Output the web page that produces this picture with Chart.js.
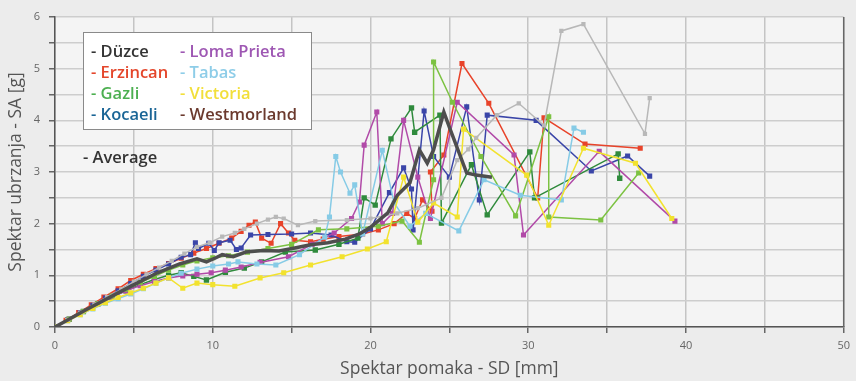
<!DOCTYPE html>
<html>
<head>
<meta charset="utf-8">
<script src="https://cdn.jsdelivr.net/npm/chart.js@4.4.1/dist/chart.umd.min.js"></script>
<style>
  html, body { margin: 0; padding: 0; background: #ececec; }
  #wrap { width: 856px; height: 381px; position: relative; }
</style>
</head>
<body>
<div id="wrap"><canvas id="spectra"></canvas></div>
<script>
// axis ticks
var xTicks = [0, 10, 20, 30, 40, 50];
var yTicks = [0, 1, 2, 3, 4, 5, 6];

// Düzce
var duzceX = [0, 0.8, 1.6, 2.5, 3.3, 4.2, 5.0, 5.8, 6.6, 7.4, 8.2, 9.0, 9.8, 10.6, 11.4, 12.0, 12.8, 13.5, 14.0, 14.5, 15.4, 16.5, 18.5, 20.0, 21.7, 23.0, 24.5, 25.5, 26.2, 26.7, 28.0, 29.4, 31.0, 32.1, 33.5, 37.4, 37.7];
var duzceY = [0, 0.14, 0.28, 0.44, 0.58, 0.73, 0.88, 1.02, 1.15, 1.28, 1.42, 1.55, 1.63, 1.75, 1.82, 1.9, 2.0, 2.08, 2.13, 2.1, 1.97, 2.05, 2.07, 2.1, 2.2, 2.3, 2.5, 3.23, 3.44, 3.66, 4.1, 4.33, 3.9, 5.73, 5.86, 3.74, 4.43];

// Erzincan
var erzincanX = [0, 0.7, 1.5, 2.3, 3.1, 4.0, 4.8, 5.6, 6.4, 7.2, 8.0, 8.8, 9.6, 10.4, 11.2, 11.8, 12.3, 12.7, 13.1, 13.7, 14.3, 14.8, 15.2, 16.2, 17.0, 18.0, 19.5, 20.5, 21.5, 22.3, 22.8, 23.3, 23.9, 23.8, 24.65, 25.8, 27.5, 30.6, 31.0, 33.6, 37.1];
var erzincanY = [0, 0.13, 0.28, 0.43, 0.58, 0.74, 0.9, 1.02, 1.13, 1.23, 1.33, 1.43, 1.52, 1.62, 1.72, 1.85, 1.97, 2.03, 1.72, 1.62, 2.0, 1.82, 1.68, 1.65, 1.7, 1.75, 1.8, 1.88, 2.0, 2.2, 2.1, 2.46, 2.24, 3.0, 3.33, 5.1, 4.33, 2.5, 4.05, 3.54, 3.46];

// Gazli
var gazliX = [0, 0.9, 1.8, 2.7, 3.6, 4.5, 5.4, 6.3, 7.2, 8.1, 9.0, 10.0, 11.0, 12.2, 13.5, 15.0, 16.7, 18.5, 20.5, 22.0, 23.1, 24.0, 24.0, 25.2, 27.0, 29.2, 31.3, 31.3, 34.6, 37.0];
var gazliY = [0, 0.15, 0.3, 0.45, 0.6, 0.73, 0.86, 0.98, 1.1, 1.2, 1.28, 1.34, 1.38, 1.45, 1.52, 1.6, 1.88, 1.9, 1.95, 2.05, 1.64, 2.85, 5.13, 4.35, 3.3, 2.15, 4.07, 2.13, 2.07, 2.98];

// Kocaeli
var kocaeliX = [0, 0.8, 1.6, 2.4, 3.2, 4.0, 4.8, 5.6, 6.4, 7.2, 8.0, 8.6, 8.9, 9.1, 9.75, 10.1, 10.4, 11.1, 11.5, 11.8, 12.4, 13.5, 15.0, 16.2, 17.5, 18.5, 19.0, 20.0, 21.2, 22.1, 22.6, 22.7, 23.4, 24.0, 25.0, 26.1, 26.9, 27.4, 30.5, 34.0, 36.3, 37.7];
var kocaeliY = [0, 0.14, 0.28, 0.42, 0.56, 0.7, 0.84, 0.98, 1.1, 1.22, 1.35, 1.4, 1.63, 1.52, 1.62, 1.48, 1.63, 1.68, 1.5, 1.53, 1.78, 1.79, 1.8, 1.82, 1.78, 1.65, 1.64, 1.9, 2.6, 3.08, 2.67, 1.88, 4.18, 3.3, 2.9, 4.26, 2.46, 4.1, 4.0, 3.02, 3.31, 2.92];

// Loma Prieta
var lomaX = [0, 0.9, 1.8, 2.7, 3.6, 4.5, 5.4, 6.3, 7.2, 8.1, 9.0, 9.9, 10.8, 11.8, 13.0, 14.8, 16.3, 17.7, 18.8, 19.3, 19.6, 20.4, 20.75, 21.4, 22.1, 23.0, 23.8, 25.5, 29.1, 29.7, 34.5, 39.3];
var lomaY = [0, 0.15, 0.3, 0.44, 0.58, 0.7, 0.8, 0.88, 0.95, 0.99, 1.02, 1.05, 1.1, 1.16, 1.25, 1.36, 1.6, 1.82, 2.1, 2.42, 3.52, 4.16, 2.0, 2.2, 4.0, 2.9, 2.1, 4.35, 3.33, 1.78, 3.4, 2.05];

// Tabas
var tabasX = [0, 0.8, 1.6, 2.4, 3.2, 4.0, 4.8, 5.6, 6.4, 7.2, 8.0, 9.0, 10.0, 11.0, 11.6, 12.8, 14.0, 15.5, 17.1, 17.4, 17.8, 18.1, 18.7, 19.0, 19.5, 20.75, 21.5, 22.5, 23.5, 25.6, 27.2, 29.5, 32.1, 32.9, 33.5];
var tabasY = [0, 0.12, 0.24, 0.35, 0.46, 0.55, 0.64, 0.74, 0.85, 0.95, 1.04, 1.12, 1.18, 1.22, 1.26, 1.22, 1.2, 1.4, 1.74, 2.13, 3.3, 3.0, 2.59, 2.75, 1.8, 3.42, 2.4, 1.95, 2.2, 1.86, 2.85, 2.55, 2.46, 3.85, 3.77];

// Victoria
var victoriaX = [0, 0.8, 1.6, 2.4, 3.2, 4.0, 4.8, 5.6, 6.4, 7.2, 8.1, 9.0, 10.0, 11.4, 13.0, 14.5, 16.2, 18.2, 19.8, 21.0, 22.1, 23.0, 24.0, 25.5, 25.9, 29.9, 31.3, 33.5, 36.8, 39.1];
var victoriaY = [0, 0.12, 0.24, 0.36, 0.47, 0.57, 0.66, 0.75, 0.85, 0.95, 0.75, 0.85, 0.82, 0.79, 0.95, 1.05, 1.2, 1.36, 1.51, 1.65, 2.9, 2.03, 2.4, 2.13, 3.83, 2.94, 1.97, 3.46, 3.17, 2.1];

// Westmorland
var westX = [0, 0.9, 1.8, 2.7, 3.6, 4.5, 5.4, 6.3, 7.2, 8.0, 8.8, 9.6, 10.8, 12.0, 13.1, 14.6, 16.5, 18.0, 19.2, 19.6, 20.3, 21.3, 22.6, 22.8, 24.4, 24.5, 26.4, 27.4, 30.1, 30.4, 35.7, 35.8];
var westY = [0, 0.15, 0.3, 0.44, 0.58, 0.7, 0.82, 0.92, 1.0, 1.05, 0.98, 0.91, 1.06, 1.14, 1.26, 1.45, 1.49, 1.6, 1.72, 2.5, 2.36, 3.64, 4.24, 3.77, 4.1, 2.01, 3.14, 2.17, 3.39, 2.5, 3.35, 2.88];

// Average
var avgX = [0, 2, 4, 5.2, 6.5, 7.9, 9, 9.6, 10.2, 10.6, 11.3, 12.1, 13.2, 14.2, 15.2, 16.2, 17.3, 18.4, 19.3, 20, 21.1, 21.7, 22.5, 23.1, 23.6, 24.0, 24.65, 25.0, 26.1, 26.7, 27.7];
var avgY = [0, 0.34, 0.66, 0.85, 1.05, 1.22, 1.32, 1.26, 1.34, 1.4, 1.36, 1.45, 1.48, 1.47, 1.53, 1.59, 1.63, 1.7, 1.8, 1.93, 2.21, 2.55, 2.79, 3.43, 3.17, 3.43, 4.16, 3.87, 2.98, 2.94, 2.90];

function pts(xs, ys) {
  return xs.map(function (x, i) { return { x: x, y: ys[i] }; });
}

function series(label, xs, ys, color, r) {
  return {
    label: label,
    data: pts(xs, ys),
    showLine: true,
    borderColor: color,
    backgroundColor: color,
    borderWidth: 1.5,
    pointStyle: 'rect',
    pointRadius: r,
    pointBorderWidth: 0,
    order: 1
  };
}

var legendItems = [
  ['- Düzce', '#333333', 0, 0], ['- Loma Prieta', '#9e57b3', 1, 0],
  ['- Erzincan', '#e4462b', 0, 1], ['- Tabas', '#8ecde8', 1, 1],
  ['- Gazli', '#4caf50', 0, 2], ['- Victoria', '#f2df3a', 1, 2],
  ['- Kocaeli', '#1a6596', 0, 3], ['- Westmorland', '#6b3a2e', 1, 3]
];

var decor = {
  id: 'decor',
  beforeDraw: function (chart) {
    var c = chart.ctx, a = chart.chartArea;
    c.save();
    c.fillStyle = '#ececec';
    c.fillRect(0, 0, chart.width, chart.height);
    c.fillStyle = '#f4f4f4';
    c.fillRect(a.left, a.top, a.right - a.left, a.bottom - a.top);
    c.restore();
  },
  afterDraw: function (chart) {
    var c = chart.ctx, a = chart.chartArea;
    c.save();
    c.strokeStyle = '#666';
    c.lineWidth = 1.5;
    c.beginPath();
    c.moveTo(a.right, a.top);
    c.lineTo(a.right, a.bottom);
    c.stroke();
    // legend box
    var bx = a.left + 28, by = a.top + 15;
    c.fillStyle = '#ffffff';
    c.fillRect(bx, by, 228, 97);
    c.strokeStyle = '#8a8a8a';
    c.lineWidth = 1;
    c.strokeRect(bx + 0.5, by + 0.5, 228, 97);
    c.font = '600 16.5px "Open Sans"';
    c.textBaseline = 'middle';
    c.textAlign = 'left';
    legendItems.forEach(function (it) {
      c.fillStyle = it[1];
      c.fillText(it[0], bx + 8 + it[2] * 89, by + 20 + it[3] * 21);
    });
    c.fillStyle = '#333333';
    c.fillText('- Average', bx, by + 126);
    c.restore();
  }
};

var ctx = document.getElementById('spectra').getContext('2d');

var avgSet = {
  label: 'Average',
  data: pts(avgX, avgY),
  showLine: true,
  borderColor: '#4e4e4e',
  backgroundColor: '#4e4e4e',
  borderWidth: 3.5,
  pointRadius: 0,
  order: 0
};

var chart = new Chart(ctx, {
  type: 'scatter',
  data: {
    datasets: [
      avgSet,
      series('Düzce', duzceX, duzceY, '#b8b8b8', 3),
      series('Victoria', victoriaX, victoriaY, '#f2e22e', 3.6),
      series('Tabas', tabasX, tabasY, '#86cbe6', 3.6),
      series('Gazli', gazliX, gazliY, '#7cc242', 3.6),
      series('Loma Prieta', lomaX, lomaY, '#b14aa8', 3.6),
      series('Westmorland', westX, westY, '#2f8a3c', 3.8),
      series('Kocaeli', kocaeliX, kocaeliY, '#3a45a8', 3.6),
      series('Erzincan', erzincanX, erzincanY, '#e8432a', 3.6)
    ]
  },
  options: {
    responsive: true,
    maintainAspectRatio: false,
    animation: false,
    layout: { padding: { top: 17, right: 6, left: 0, bottom: 0 } },
    plugins: {
      legend: { display: false },
      tooltip: { enabled: false }
    },
    scales: {
      x: {
        type: 'linear',
        min: 0,
        max: 50,
        afterFit: function (s) { s.height = 54; },
        ticks: {
          stepSize: 5,
          autoSkip: false,
          padding: 6,
          color: '#666',
          font: { family: 'Open Sans', size: 11 },
          callback: function (v) { return xTicks.indexOf(v) >= 0 ? v : ''; }
        },
        grid: { color: '#c4c4c4', lineWidth: 1.5, tickLength: 6, tickColor: '#666' },
        border: { color: '#555', width: 1.5 },
        title: {
          display: true,
          text: 'Spektar pomaka - SD [mm]',
          color: '#555',
          font: { family: 'Open Sans', size: 17.5 },
          padding: { top: 0, bottom: 1 }
        }
      },
      y: {
        min: 0,
        max: 6,
        afterFit: function (s) { s.width = 55; },
        ticks: {
          stepSize: 0.5,
          autoSkip: false,
          padding: 9,
          color: '#666',
          font: { family: 'Open Sans', size: 11 },
          callback: function (v) { return yTicks.indexOf(v) >= 0 ? v : ''; }
        },
        grid: { color: '#cdcdcd', lineWidth: 1.5, tickLength: 6, tickColor: '#666' },
        border: { color: '#555', width: 1.5 },
        title: {
          display: true,
          text: 'Spektar ubrzanja - SA [g]',
          color: '#555',
          font: { family: 'Open Sans', size: 17.5 },
          padding: { top: 6, bottom: 0 }
        }
      }
    }
  },
  plugins: [decor]
});
</script>
</body>
</html>
